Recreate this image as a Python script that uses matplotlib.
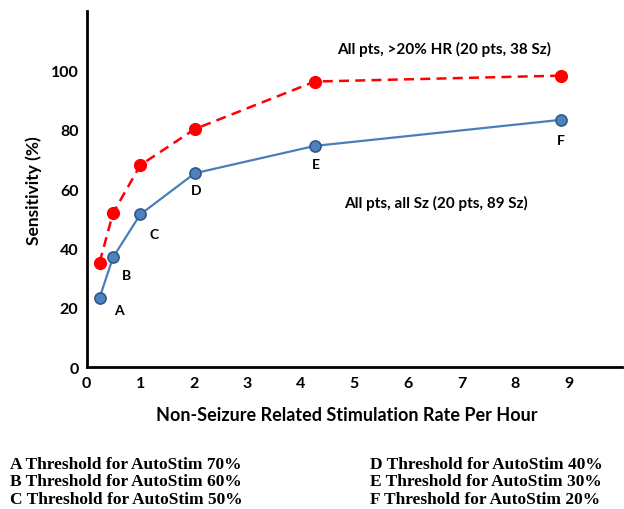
import matplotlib
matplotlib.use("Agg")
from matplotlib import pyplot as plt

# stimulation rate per hour (x) and sensitivity % (y)
rate = [0.24, 0.49, 1.0, 2.02, 4.26, 8.86]
sens_all = [23.4, 37.0, 51.5, 65.4, 74.6, 83.4]
sens_hr = [35.3, 51.9, 68.1, 80.3, 96.3, 98.3]
point_labels = ["A", "B", "C", "D", "E", "F"]
label_offsets = [(0.36, -4.1), (0.26, -5.8), (0.25, -6.5), (0.02, -5.7), (0.02, -6.1), (0.0, -6.8)]
thresholds = ["70%", "60%", "50%", "40%", "30%", "20%"]

sans = ["Lato", "DejaVu Sans"]
serif = ["Liberation Serif", "DejaVu Serif"]

fig = plt.figure(figsize=(6.24, 5.10), dpi=100)
ax = fig.add_axes([0.139, 0.278, 0.858, 0.698])

ax.plot(rate, sens_hr, color="#ff0000", lw=1.8, ls=(0, (4, 2.5)),
        marker="o", ms=8.5, mfc="#ff0000", mec="#ff0000", zorder=3)
ax.plot(rate, sens_all, color="#4a7ebb", lw=1.6,
        marker="o", ms=8, mfc="#4f81bd", mec="#2f5a8a", mew=1.2, zorder=4)

for x, y, lab, (dx, dy) in zip(rate, sens_all, point_labels, label_offsets):
    ax.text(x + dx, y + dy, lab, ha="center", va="center", fontsize=10,
            fontweight="bold", family=sans)

ax.text(6.67, 107.5, "All pts, >20% HR (20 pts, 38 Sz)", ha="center", va="center",
        fontsize=11, fontweight="bold", family=sans)
ax.text(6.52, 55.6, "All pts, all Sz (20 pts, 89 Sz)", ha="center", va="center",
        fontsize=11, fontweight="bold", family=sans)

ax.set_xlim(0, 10)
ax.set_ylim(0, 120)
ax.set_xticks(range(0, 10))
ax.set_yticks(range(0, 101, 20))
for lab in ax.get_xticklabels() + ax.get_yticklabels():
    lab.set_fontweight("bold")
    lab.set_fontsize(11.5)
    lab.set_family(sans)
ax.tick_params(length=0, pad=6)
ax.spines["top"].set_visible(False)
ax.spines["right"].set_visible(False)
ax.spines["left"].set_linewidth(2)
ax.spines["bottom"].set_linewidth(2)

ax.set_xlabel("Non-Seizure Related Stimulation Rate Per Hour", fontsize=13,
              fontweight="bold", family=sans)
ax.xaxis.set_label_coords(0.485, -0.108)
ax.set_ylabel("Sensitivity (%)", fontsize=12.5, fontweight="bold", family=sans, labelpad=6)

# threshold legend text under the chart
for i, (lab, th) in enumerate(zip(point_labels, thresholds)):
    col = i // 3
    row = i % 3
    fx = 10 / 624 if col == 0 else 370 / 624
    fy = 1 - (465 + row * 17.5) / 510
    fig.text(fx, fy, f"{lab} Threshold for AutoStim {th}", ha="left", va="center",
             fontsize=12.5, fontweight="bold", family=serif)

fig.savefig("out.png", dpi=100)
